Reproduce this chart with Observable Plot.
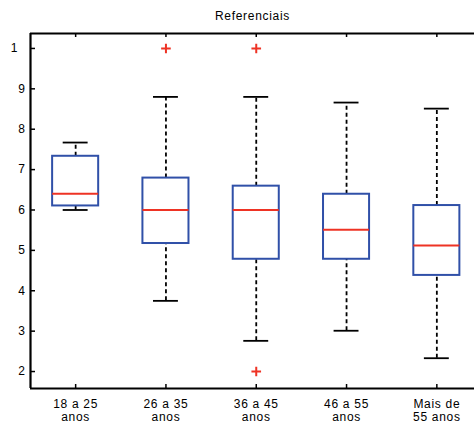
<!DOCTYPE html>
<html>
<head>
<meta charset="utf-8">
<script src="https://cdn.jsdelivr.net/npm/d3@7"></script>
<script src="https://cdn.jsdelivr.net/npm/@observablehq/plot@0.6"></script>
<style>
  html, body { margin: 0; padding: 0; background: #fff; }
  svg { display: block; }
  svg text { letter-spacing: 0.7px; }
</style>
</head>
<body>
<div id="chart"></div>
<script>
const title = "Referenciais";
const categories = ["18 a 25\nanos", "26 a 35\nanos", "36 a 45\nanos", "46 a 55\nanos", "Mais de\n55 anos"];
const lowerWhisker = [6.0, 3.75, 2.76, 3.01, 2.33];
const q1 = [6.10, 5.17, 4.78, 4.78, 4.38];
const median = [6.40, 6.0, 6.0, 5.51, 5.12];
const q3 = [7.33, 6.79, 6.59, 6.39, 6.11];
const upperWhisker = [7.67, 8.80, 8.80, 8.66, 8.51];
const outlierGroup = [1, 2, 2];
const outlierValue = [10, 10, 2];
const yTicks = [2, 3, 4, 5, 6, 7, 8, 9, 10];
const yTickLabels = ["2", "3", "4", "5", "6", "7", "8", "9", "1\u2007"];

const boxes = categories.map((c, i) => ({
  i, lo: lowerWhisker[i], q1: q1[i], med: median[i], q3: q3[i], hi: upperWhisker[i]
}));
const outliers = outlierGroup.map((g, k) => ({i: g, v: outlierValue[k]}));

const xMin = -0.5, xMax = 4.417;
const yMin = 1.58, yMax = 10.37;
const boxHalf = 0.255, capHalf = 0.138;
const xTickLen = 5 / 90.3, yTickLen = 4 / 40.4;

const blue = "#3050a8", red = "#ee3324";

const chart = Plot.plot({
  width: 474,
  height: 424,
  marginLeft: 30,
  marginRight: 0,
  marginTop: 33,
  marginBottom: 36,
  style: {fontFamily: "Liberation Sans, Arial, sans-serif", fontSize: "12px", background: "#fff"},
  x: {domain: [xMin, xMax], axis: null},
  y: {domain: [yMin, yMax], axis: null},
  marks: [
    // whiskers
    Plot.ruleX(boxes, {x: "i", y1: "q3", y2: "hi", stroke: "#000", strokeWidth: 1.8, strokeDasharray: "4,3"}),
    Plot.ruleX(boxes, {x: "i", y1: "lo", y2: "q1", stroke: "#000", strokeWidth: 1.8, strokeDasharray: "4,3"}),
    Plot.ruleY(boxes, {y: "hi", x1: d => d.i - capHalf, x2: d => d.i + capHalf, stroke: "#000", strokeWidth: 1.8}),
    Plot.ruleY(boxes, {y: "lo", x1: d => d.i - capHalf, x2: d => d.i + capHalf, stroke: "#000", strokeWidth: 1.8}),
    // boxes
    Plot.rect(boxes, {x1: d => d.i - boxHalf, x2: d => d.i + boxHalf, y1: "q1", y2: "q3", fill: "none", stroke: blue, strokeWidth: 2}),
    Plot.ruleY(boxes, {y: "med", x1: d => d.i - boxHalf, x2: d => d.i + boxHalf, stroke: red, strokeWidth: 2}),
    // outliers
    Plot.dot(outliers, {x: "i", y: "v", symbol: "plus", r: 3.2, stroke: red, strokeWidth: 2}),
    // axes frame
    Plot.ruleX([xMin], {y1: yMin, y2: yMax, stroke: "#000", strokeWidth: 2.2}),
    Plot.ruleY([yMin, yMax], {x1: xMin, x2: xMax, stroke: "#000", strokeWidth: 2.2}),
    // y ticks (inward)
    Plot.ruleY(yTicks, {x1: xMin, x2: xMin + xTickLen, stroke: "#000", strokeWidth: 1.5}),
    // x ticks (inward, top and bottom)
    Plot.ruleX(boxes, {x: "i", y1: yMax, y2: yMax - yTickLen, stroke: "#000", strokeWidth: 1.5}),
    Plot.ruleX(boxes, {x: "i", y1: yMin, y2: yMin + yTickLen, stroke: "#000", strokeWidth: 1.5}),
    // axis labels
    Plot.axisY({ticks: yTicks, tickSize: 0, tickPadding: 5, tickFormat: (d) => yTickLabels[yTicks.indexOf(d)], fontSize: 12, label: null}),
    Plot.axisX({ticks: [0, 1, 2, 3, 4], tickSize: 0, tickPadding: 10, tickFormat: d => categories[d], lineHeight: 1.1, fontSize: 12, label: null}),
    // title
    Plot.text([title], {frameAnchor: "top", dy: -22, x: null, text: d => d, fontSize: 12, fill: "#000"})
  ]
});
document.getElementById("chart").appendChild(chart);
</script>
</body>
</html>
